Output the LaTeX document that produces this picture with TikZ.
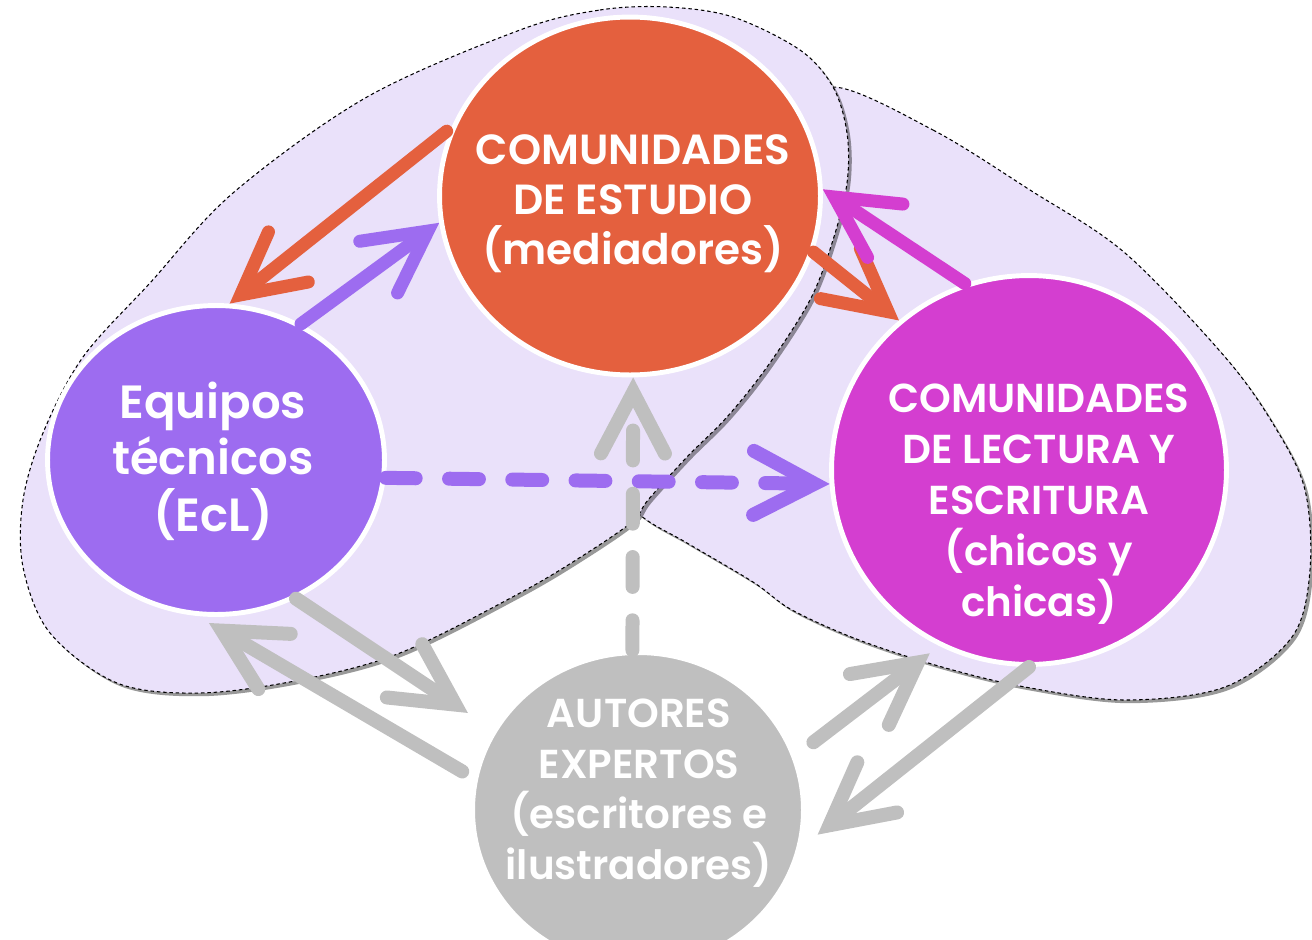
\documentclass[tikz,border=0pt]{standalone}
\usepackage{fontspec}
\setmainfont{Poppins}
\newfontfamily\semib{Poppins SemiBold}
\usetikzlibrary{shapes.geometric,arrows.meta,shadows}
\definecolor{orangeC}{HTML}{E4603E}
\definecolor{purpleC}{HTML}{9D6CF0}
\definecolor{magentaC}{HTML}{D43ED0}
\definecolor{grayC}{HTML}{BFBFBF}
\definecolor{lavender}{HTML}{EAE1FA}
\tikzset{
  blob/.style={fill=lavender, draw=black, line width=0.6pt, dash pattern=on 2pt off 1.6pt,
    drop shadow={shadow xshift=1.8pt, shadow yshift=-1.8pt, opacity=0.4, fill=black}},
  circ/.style={ellipse, draw=white, line width=2.8pt, inner sep=0pt},
  txt/.style={text=white, align=center, inner sep=0pt},
  head/.style={-{Straight Barb[length=1.22cm, width=1.28cm, line cap=round, line join=miter]}},
  conn/.style={head, line width=0.26cm, line cap=round},
  gconn/.style={head, line width=0.28cm, line cap=round, draw=grayC},
  dashline/.style={dash pattern=on 17pt off 19pt}
}
\begin{document}
\begin{tikzpicture}[x=0.02cm, y=-0.02cm]
\clip (0,0) rectangle (1312,940);
% right lavender area
\path[blob] plot[smooth cycle, tension=0.55] coordinates {
  (833,87) (933,130) (1030,190) (1125,253) (1225,357) (1275,427) (1305,490)
  (1310,570) (1292,637) (1225,687) (1125,700) (1025,687) (942,667) (859,640)
  (792,610) (753,582) (687,543) (640,515) (600,470) (650,350) (740,200) (790,130)};
% left lavender area
\path[blob] plot[smooth cycle, tension=0.55] coordinates {
  (520,30) (600,10) (667,7) (733,17) (800,50) (833,87) (847,133) (847,183)
  (833,240) (810,300) (767,367) (727,417) (687,457) (648,500) (633,521)
  (587,553) (520,593) (400,653) (300,680) (200,693) (117,683) (50,633)
  (23,567) (23,500) (43,433) (83,357) (150,283) (233,193) (367,97)};
% circles
\node[circ, fill=orangeC, minimum width=7.62cm, minimum height=7.16cm] (est) at (630,196) {};
\node[circ, fill=purpleC, minimum width=6.74cm, minimum height=6.18cm] (eq) at (216,460) {};
\node[circ, fill=magentaC, minimum width=7.9cm, minimum height=7.78cm] (lec) at (1029,470) {};
\node[circ, fill=grayC, minimum width=6.62cm, minimum height=6.3cm] (aut) at (638,810) {};
% texts
\node[txt, font=\semib\fontsize{24}{28.5}\selectfont] (estT) at (633,204) {COMUNIDADES\\DE ESTUDIO\\(mediadores)};
\node[txt, font=\semib\fontsize{26.5}{32.2}\selectfont] (eqT) at (213,461) {Equipos\\técnicos\\(EcL)};
\node[txt, font=\semib\fontsize{23}{29.1}\selectfont] (lecT) at (1039,504) {COMUNIDADES\\DE LECTURA Y\\ESCRITURA\\(chicos y\\chicas)};
\node[txt, font=\semib\fontsize{23}{28.8}\selectfont] (autT) at (639,793) {AUTORES\\EXPERTOS\\(escritores e\\ilustradores)};
% connectors
\draw[conn, draw=orangeC, shorten <=0.12cm] (est.159) -- (eq.85);
\draw[conn, draw=purpleC] (eq.58) -- (est.188);
\draw[conn, draw=orangeC] (est.343) -- (lec.131);
\draw[conn, draw=magentaC] (lec.109) -- (est.2);
\draw[conn, draw=purpleC, line width=0.28cm, dashline] (eq.354) -- (lec.184);
\draw[gconn, dashline] (aut.92) -- (est.271);
\draw[gconn, shorten >=0.6cm] (eq.300) -- (aut.151);
\draw[gconn, shorten <=0.26cm, shorten >=0.28cm] (aut.169) -- (eq.263);
\draw[gconn, shorten <=0.44cm, shorten >=0.24cm] (aut.19) -- (lec.243);
\draw[gconn, shorten >=0.42cm] (lec.270) -- (aut.347);
\end{tikzpicture}
\end{document}
